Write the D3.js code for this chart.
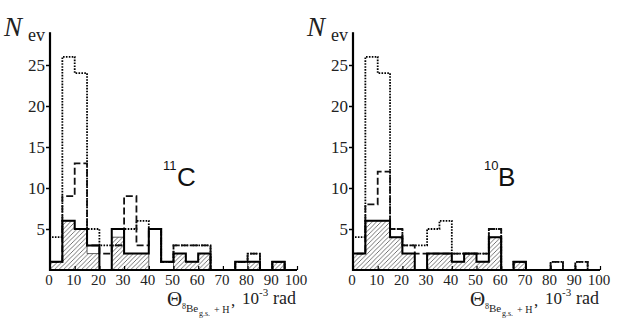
<!DOCTYPE html>
<html><head><meta charset="utf-8">
<script src="https://cdn.jsdelivr.net/npm/d3@7"></script>
<style>body{margin:0;background:#fff}svg{display:block}</style></head>
<body><svg id="c" width="623" height="319"></svg>
<script>
// bin left edges (10^-3 rad), width 5
const binStarts = d3.range(0, 100, 5);
const binWidth = 5;
// 11C panel
const cSolid   = [1,6,5,3,0,5,2,2,5,1,2,1,2,0,0,1,1,0,1,0];
const cHatched = [1,6,5,2,0,4,2,2,0,0,2,1,2,0,0,0,1,0,1,0];
const cDashed  = [1,9,13,3,2,3,9,3,5,1,3,3,3,0,0,1,2,0,1,0];
const cDotted  = [4,26,24,5,3,3,5,6,5,1,3,3,3,0,0,1,2,0,1,0];
// 10B panel
const bSolid   = [2,6,6,4,2,0,2,2,1,2,1,4,0,1,0,0,0,0,0,0];
const bHatched = [2,6,6,4,2,0,2,2,1,2,1,4,0,1,0,0,0,0,0,0];
const bDashed  = [2,8,12,5,3,2,2,2,2,2,2,5,0,1,0,0,1,0,1,0];
const bDotted  = [4,26,24,5,3,3,5,6,2,2,2,5,0,1,0,0,1,0,1,0];
const yTicks = [5,10,15,20,25];
const xTicks = [0,10,20,30,40,50,60,70,80,90,100];
const panelLabels = [{sup:"11", el:"C"}, {sup:"10", el:"B"}];

const SERIF = '"Liberation Serif","Times New Roman",Times,"DejaVu Serif",serif';
const SANS = '"Liberation Sans",Arial,Helvetica,sans-serif';
const svg = d3.select("#c");
const defs = svg.append("defs");
const pat = defs.append("pattern").attr("id","hatch").attr("patternUnits","userSpaceOnUse")
  .attr("width",4.5).attr("height",4.5);
pat.append("path").attr("d","M-1,1 l2,-2 M0,4.5 l4.5,-4.5 M3.5,5.5 l2,-2")
  .attr("stroke","#444").attr("stroke-width",0.75);

const txt = "#222";

function panel(cfg, sets, label){
  const g = svg.append("g");
  const x = d3.scaleLinear().domain([0,100]).range([cfg.x0, cfg.x1]);
  const y = d3.scaleLinear().domain([0,25]).range([270, 65]);
  const step = vals => {
    const p = d3.path();
    p.moveTo(x(0), y(0));
    vals.forEach((v,i)=>{ p.lineTo(x(binStarts[i]), y(v)); p.lineTo(x(binStarts[i]+binWidth), y(v)); });
    p.lineTo(x(100), y(0));
    return p.toString();
  };
  g.append("path").attr("d", step(sets.hatched)+"Z").attr("fill","url(#hatch)")
    .attr("stroke","#333").attr("stroke-width",0.8);
  g.append("path").attr("d", step(sets.dotted)).attr("fill","none").attr("stroke","#000")
    .attr("stroke-width",1.8).attr("stroke-dasharray","1.6,1.3");
  g.append("path").attr("d", step(sets.dashed)).attr("fill","none").attr("stroke","#111")
    .attr("stroke-width",1.8).attr("stroke-dasharray","7,3");
  g.append("path").attr("d", step(sets.solid)).attr("fill","none").attr("stroke","#000")
    .attr("stroke-width",2);
  // y axis
  const ya = d3.axisLeft(y).tickValues(yTicks).tickSize(4).tickPadding(1);
  const yg = g.append("g").attr("transform",`translate(${cfg.x0},0)`).call(ya)
    .attr("font-family", SERIF).attr("font-size", 17);
  yg.select(".domain").remove();
  yg.selectAll("line").attr("stroke","#000").attr("stroke-width",1.5);
  yg.selectAll("text").style("font-family", SERIF).style("font-size","17px").attr("fill",txt);
  g.append("line").attr("x1",cfg.x0).attr("x2",cfg.x0).attr("y1",y(0)+1).attr("y2",y(29))
    .attr("stroke","#000").attr("stroke-width",2.2);
  // x axis
  const xa = d3.axisBottom(x).tickValues(xTicks).tickSize(-4).tickPadding(4);
  const xg = g.append("g").attr("transform",`translate(0,${y(0)})`).call(xa)
    .attr("font-family", SERIF).attr("font-size", 15);
  xg.select(".domain").remove();
  xg.selectAll("line").attr("stroke","#000").attr("stroke-width",1.2);
  xg.selectAll("text").style("font-family", SERIF).style("font-size","15px").attr("fill",txt)
    .attr("dx",-1.5);
  g.append("line").attr("x1",cfg.x0-1).attr("x2",x(100)).attr("y1",y(0)).attr("y2",y(0))
    .attr("stroke","#000").attr("stroke-width",2.2);
  // N_ev
  g.append("text").style("font-family",SERIF).attr("x",cfg.x0-46).attr("y",36)
    .attr("font-style","italic").attr("font-size",27).attr("fill",txt).text("N");
  g.append("text").style("font-family",SERIF).attr("x",cfg.x0-22).attr("y",41)
    .attr("font-size",18).attr("fill",txt).text("ev");
  // panel label
  g.append("text").style("font-family",SANS).attr("x",cfg.lx).attr("y",170)
    .attr("font-size",13).attr("fill","#111").text(label.sup);
  g.append("text").style("font-family",SANS).attr("x",cfg.lx+14).attr("y",186)
    .attr("font-size",26).attr("fill","#111").text(label.el);
  // x title
  const tx = cfg.x0+117;
  const t = (dx, yy, fs, s) => g.append("text").style("font-family",SERIF).attr("x",tx+dx).attr("y",yy)
    .attr("font-size",fs).attr("fill",txt).text(s);
  t(0, 306, 21, "Θ");
  t(15, 309, 8, "8");
  t(19, 312, 11, "Be");
  t(32, 316, 8, "g.s.");
  t(47, 313, 10, "+ H");
  t(64, 306, 17, ",");
  t(75, 304, 17, "10");
  t(92, 296, 11, "-3");
  t(106, 304, 18, "rad");
}

panel({x0:50, x1:297, lx:163}, {solid:cSolid, hatched:cHatched, dashed:cDashed, dotted:cDotted}, panelLabels[0]);
panel({x0:353, x1:600, lx:484}, {solid:bSolid, hatched:bHatched, dashed:bDashed, dotted:bDotted}, panelLabels[1]);
</script></body></html>
